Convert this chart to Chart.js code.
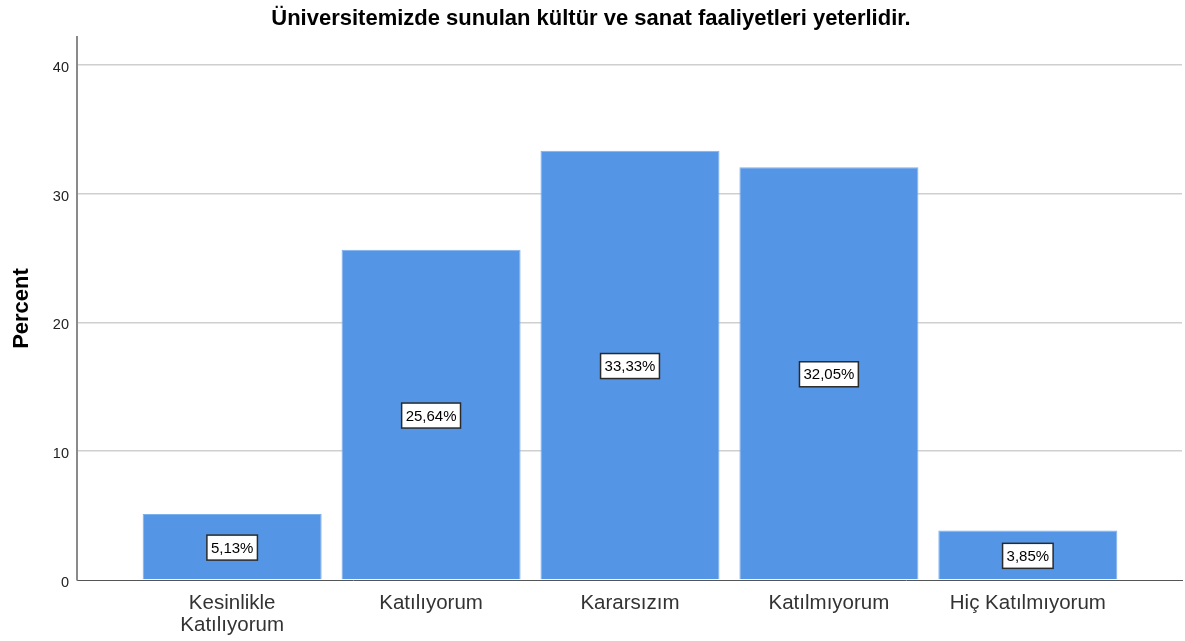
<!DOCTYPE html>
<html>
<head>
<meta charset="utf-8">
<script src="https://cdn.jsdelivr.net/npm/chart.js@4/dist/chart.umd.min.js"></script>
<style>
    html, body { margin: 0; padding: 0; background: #fff; }
    #wrap { width: 1185px; height: 641px; }
</style>
</head>
<body>
<div id="wrap"><canvas id="chart"></canvas></div>
<script>
// values
const categories = [['Kesinlikle', 'Katılıyorum'], 'Katılıyorum', 'Kararsızım', 'Katılmıyorum', 'Hiç Katılmıyorum'];
const percents = [5.13, 25.64, 33.33, 32.05, 3.85];
const yTicks = [0, 10, 20, 30, 40];

const fontFamily = '"Liberation Sans", Arial, sans-serif';

// white boxed percent label in the middle of each bar
const boxLabels = {
    id: 'boxLabels',
    afterDatasetsDraw(chart) {
        const ctx = chart.ctx;
        const meta = chart.getDatasetMeta(0);
        ctx.save();
        ctx.font = '15px ' + fontFamily;
        ctx.textAlign = 'center';
        ctx.textBaseline = 'middle';
        meta.data.forEach((bar, i) => {
            let txt = percents[i].toFixed(2).replace('.', ',') + '%';
            let cy = (bar.y + bar.base) / 2 + 1;
            let w = ctx.measureText(txt).width + 8;
            let h = 25;
            ctx.fillStyle = '#ffffff';
            ctx.fillRect(bar.x - w / 2, cy - h / 2, w, h);
            ctx.strokeStyle = '#2a2a2a';
            ctx.lineWidth = 1.5;
            ctx.strokeRect(bar.x - w / 2, cy - h / 2, w, h);
            ctx.fillStyle = '#000000';
            ctx.fillText(txt, bar.x, cy + 1);
        });
        ctx.restore();
    }
};

new Chart(document.getElementById('chart'), {
    type: 'bar',
    data: {
        datasets: [{
            data: percents.map((v, i) => ({x: i, y: v})),
            backgroundColor: '#5595e5',
            borderColor: '#7fb0ee',
            borderWidth: 1,
            barPercentage: 0.9,
            categoryPercentage: 1.0
        }]
    },
    options: {
        responsive: true,
        maintainAspectRatio: false,
        animation: false,
        layout: {padding: {left: 0, right: 3, top: 0, bottom: 0}},
        plugins: {
            legend: {display: false},
            tooltip: {enabled: false},
            title: {
                display: true,
                text: 'Üniversitemizde sunulan kültür ve sanat faaliyetleri yeterlidir.',
                color: '#000',
                font: {family: fontFamily, size: 22, weight: 'bold'},
                padding: {top: 6, bottom: 4.6}
            }
        },
        scales: {
            x: {
                type: 'linear',
                min: -0.78,
                max: 4.775,
                offset: false,
                afterBuildTicks(scale) {
                    scale.ticks = categories.map((c, i) => ({value: i}));
                },
                afterFit(scale) { scale.height = 61; },
                ticks: {
                    callback: (v) => categories[v],
                    color: '#333',
                    font: {family: fontFamily, size: 20.5, lineHeight: 1.1},
                    padding: 12,
                    maxRotation: 0,
                    autoSkip: false
                },
                grid: {display: false, drawTicks: false},
                border: {display: true, color: '#555', width: 1}
            },
            y: {
                min: 0,
                max: 42.17,
                afterBuildTicks(scale) {
                    scale.ticks = yTicks.map(v => ({value: v}));
                },
                afterFit(scale) { scale.width = 77; },
                ticks: {
                    color: '#222',
                    font: {family: fontFamily, size: 14.5},
                    padding: 8,
                    labelOffset: 3
                },
                grid: {
                    color: (c) => c.tick && c.tick.value === 0 ? 'rgba(0,0,0,0)' : '#cfcfcf',
                    lineWidth: 1.5,
                    drawTicks: false
                },
                border: {display: true, color: '#8a8a8a', width: 2},
                title: {
                    display: true,
                    text: 'Percent',
                    color: '#000',
                    font: {family: fontFamily, size: 22, weight: 'bold'},
                    padding: {top: 9, bottom: 0}
                }
            }
        }
    },
    plugins: [boxLabels]
});
</script>
</body>
</html>
